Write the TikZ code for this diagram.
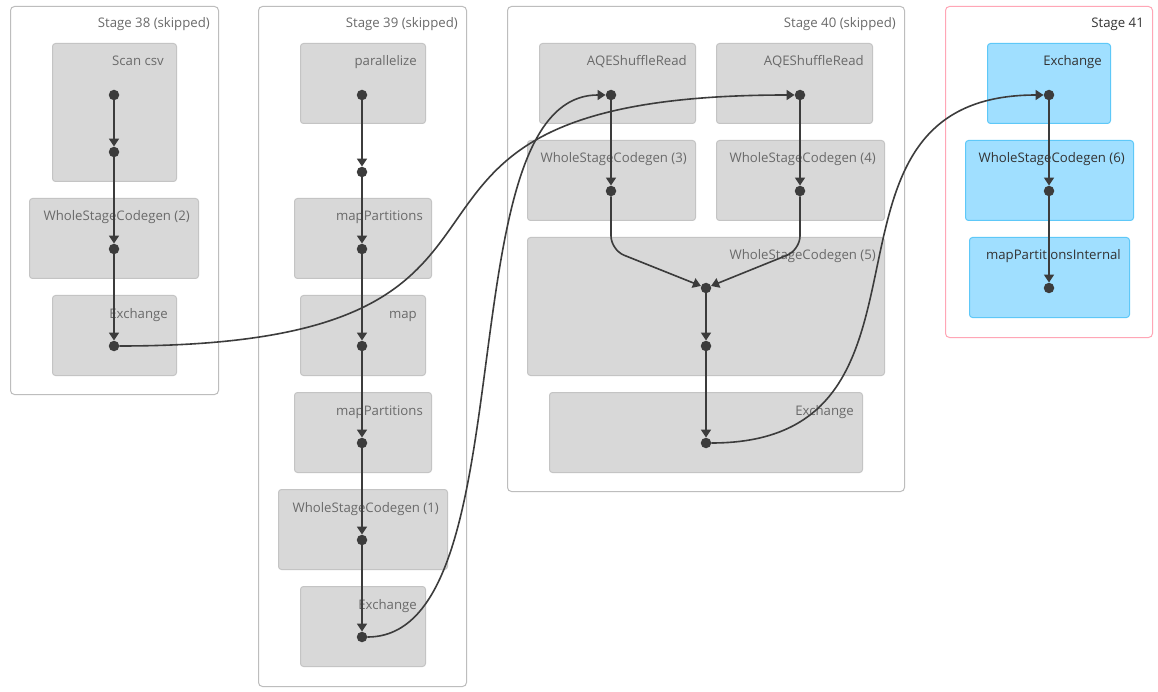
\documentclass[tikz,border=0pt]{standalone}
\usepackage{fontspec}
\setmainfont{Open Sans}
\usetikzlibrary{arrows.meta}
\definecolor{gfill}{HTML}{D8D8D8}
\definecolor{gline}{HTML}{C4C4C4}
\definecolor{bfill}{HTML}{A0DFFF}
\definecolor{bline}{HTML}{5EC8F8}
\definecolor{stline}{HTML}{BDBDBD}
\definecolor{pinkline}{HTML}{FFA6B6}
\definecolor{edgec}{HTML}{3C3C3C}
\definecolor{glabel}{HTML}{6A6A6A}
\definecolor{dlabel}{HTML}{333333}
\newcommand\mybox[8]{%
  \node[#1, anchor=north west, minimum width={(#5-#3)*1pt}, minimum height={(#6-#4)*1pt}] (#2) at (#3,#4) {};
  \node[lbl, #8] (#2-l) at (#5-8,#4+23) {#7};}
\begin{document}
\begin{tikzpicture}[x=1pt,y=-1pt,
  stagebox/.style={draw=stline, fill=white, rounded corners=4pt, line width=1pt, inner sep=0pt},
  pinkstage/.style={stagebox, draw=pinkline},
  gbox/.style={draw=gline, fill=gfill, rounded corners=3pt, line width=1pt, inner sep=0pt},
  bbox/.style={draw=bline, fill=bfill, rounded corners=3pt, line width=1pt, inner sep=0pt},
  lbl/.style={anchor=base east, inner sep=0pt, font=\fontsize{13.2}{15}\selectfont, text=glabel},
  dlbl/.style={text=dlabel},
  dot/.style={circle, fill=edgec, inner sep=0pt, minimum size=10.5pt},
  edge/.style={draw=edgec, line width=1.6pt, -{Triangle[length=8pt,width=10pt]}}]
\useasboundingbox (0,0) rectangle (1158,692);
\fill[white] (0,0) rectangle (1158,692);
% stages
\node[stagebox, anchor=north west, minimum width=208pt, minimum height=388pt] (st38) at (10,6) {};
\node[lbl] (st38-l) at (210,28) {Stage 38 (skipped)};
\node[stagebox, anchor=north west, minimum width=208pt, minimum height=680pt] (st39) at (258,6) {};
\node[lbl] (st39-l) at (458,28) {Stage 39 (skipped)};
\node[stagebox, anchor=north west, minimum width=397pt, minimum height=485pt] (st40) at (507,6) {};
\node[lbl] (st40-l) at (896,28) {Stage 40 (skipped)};
\node[pinkstage, anchor=north west, minimum width=207pt, minimum height=331pt] (st41) at (945,6) {};
\node[lbl, dlbl] (st41-l) at (1144,28) {Stage 41};
% stage 38 boxes
\mybox{gbox}{scan}{52}{43}{176}{181}{Scan csv}{xshift=-4pt}
\mybox{gbox}{wsc2}{29}{198}{198}{278}{WholeStageCodegen (2)}{}
\mybox{gbox}{ex38}{52}{295}{176}{375}{Exchange}{}
% stage 39 boxes
\mybox{gbox}{par}{300}{43}{425}{123}{parallelize}{}
\mybox{gbox}{mp1}{294}{198}{431}{278}{mapPartitions}{}
\mybox{gbox}{map}{300}{295}{425}{375}{map}{}
\mybox{gbox}{mp2}{294}{392}{431}{472}{mapPartitions}{}
\mybox{gbox}{wsc1}{278}{489}{447}{569}{WholeStageCodegen (1)}{}
\mybox{gbox}{ex39}{300}{586}{425}{666}{Exchange}{}
% stage 40 boxes
\mybox{gbox}{aqe1}{539}{43}{695}{123}{AQEShuffleRead}{}
\mybox{gbox}{aqe2}{716}{43}{872}{123}{AQEShuffleRead}{}
\mybox{gbox}{wsc3}{527}{140}{695}{220}{WholeStageCodegen (3)}{}
\mybox{gbox}{wsc4}{716}{140}{884}{220}{WholeStageCodegen (4)}{}
\mybox{gbox}{wsc5}{527}{237}{884}{375}{WholeStageCodegen (5)}{}
\mybox{gbox}{ex40}{549}{392}{862}{472}{Exchange}{}
% stage 41 boxes
\mybox{bbox}{ex41}{987}{43}{1110}{123}{Exchange}{dlbl}
\mybox{bbox}{wsc6}{965}{140}{1133}{220}{WholeStageCodegen (6)}{dlbl}
\mybox{bbox}{mpi}{969}{237}{1129}{317}{mapPartitionsInternal}{dlbl}
% dots
\node[dot] (a1) at (114,95) {};
\node[dot] (a2) at (114,152) {};
\node[dot] (a3) at (114,249) {};
\node[dot] (a4) at (114,346) {};
\node[dot] (b1) at (362,95) {};
\node[dot] (b2) at (362,172) {};
\node[dot] (b3) at (362,249) {};
\node[dot] (b4) at (362,346) {};
\node[dot] (b5) at (362,443) {};
\node[dot] (b6) at (362,540) {};
\node[dot] (b7) at (362,637) {};
\node[dot] (c1) at (611,95) {};
\node[dot] (c2) at (800,95) {};
\node[dot] (c3) at (611,191) {};
\node[dot] (c4) at (800,191) {};
\node[dot] (c5) at (706,288) {};
\node[dot] (c6) at (706,346) {};
\node[dot] (c7) at (706,443) {};
\node[dot] (d1) at (1049,95) {};
\node[dot] (d2) at (1049,191) {};
\node[dot] (d3) at (1049,288) {};
% edges
\draw[edge] (a1) -- (a2);
\draw[edge] (a2) -- (a3);
\draw[edge] (a3) -- (a4);
\draw[edge] (b1) -- (b2);
\draw[edge] (b2) -- (b3);
\draw[edge] (b3) -- (b4);
\draw[edge] (b4) -- (b5);
\draw[edge] (b5) -- (b6);
\draw[edge] (b6) -- (b7);
\draw[edge] (c1) -- (c3);
\draw[edge] (c2) -- (c4);
\draw[edge, rounded corners=14pt] (c3) -- (611,250) -- (c5);
\draw[edge, rounded corners=14pt] (c4) -- (800,250) -- (c5);
\draw[edge] (c5) -- (c6);
\draw[edge] (c6) -- (c7);
\draw[edge] (d1) -- (d2);
\draw[edge] (d2) -- (d3);
\draw[edge] (a4) .. controls (615,346) and (299,95) .. (c2);
\draw[edge] (b7) .. controls (530,637) and (443,95) .. (c1);
\draw[edge] (c7) .. controls (967,443) and (788,95) .. (d1);
\end{tikzpicture}
\end{document}
